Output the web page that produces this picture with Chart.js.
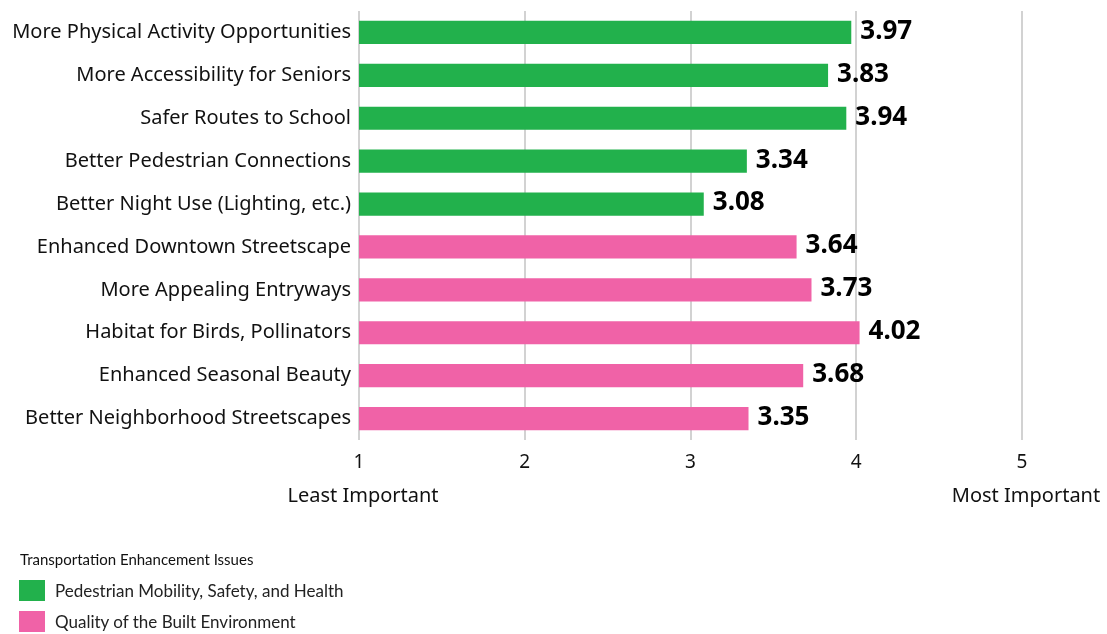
<!DOCTYPE html>
<html>
<head>
<meta charset="utf-8">
<script src="https://cdn.jsdelivr.net/npm/chart.js@4/dist/chart.umd.min.js"></script>
<style>
  html, body { margin: 0; padding: 0; background: #fff; }
  #wrap { position: relative; width: 1107px; height: 634px; overflow: hidden; }
  #legend { position: absolute; left: 20px; top: 548px; font-family: Lato, sans-serif; color: #111; }
  #legend .title { font-size: 15px; height: 22px; line-height: 22px; margin-bottom: 10px; }
  #legend .item { display: flex; align-items: center; height: 21px; margin-bottom: 10px; font-size: 17px; color: #222; }
  #legend .sw { width: 26px; height: 21px; margin-left: -1px; margin-right: 10px; }
</style>
</head>
<body>
<div id="wrap">
  <canvas id="c" width="1107" height="634"></canvas>
  <div id="legend"></div>
</div>
<script>
const categories = [
  "More Physical Activity Opportunities",
  "More Accessibility for Seniors",
  "Safer Routes to School",
  "Better Pedestrian Connections",
  "Better Night Use (Lighting, etc.)",
  "Enhanced Downtown Streetscape",
  "More Appealing Entryways",
  "Habitat for Birds, Pollinators",
  "Enhanced Seasonal Beauty",
  "Better Neighborhood Streetscapes"
];
const pedestrianValues = [3.97, 3.83, 3.94, 3.34, 3.08, null, null, null, null, null];
const builtEnvValues   = [null, null, null, null, null, 3.64, 3.73, 4.02, 3.68, 3.35];
const seriesNames = ["Pedestrian Mobility, Safety, and Health", "Quality of the Built Environment"];
const seriesColors = ["#22b14c", "#f062a7"];
const xTicks = [1, 2, 3, 4, 5];
const xEndCaptions = { 1: "Least Important", 5: "Most Important" };
const legendTitle = "Transportation Enhancement Issues";

const FONT = "'Noto Sans', sans-serif";

const valueLabels = {
  id: 'valueLabels',
  afterDatasetsDraw(chart) {
    const ctx = chart.ctx;
    ctx.save();
    ctx.font = "bold 26px " + FONT;
    ctx.fillStyle = "#000";
    ctx.textAlign = "left";
    ctx.textBaseline = "middle";
    chart.data.datasets.forEach((ds, di) => {
      const meta = chart.getDatasetMeta(di);
      meta.data.forEach((bar, i) => {
        const v = ds.data[i];
        if (v === null || v === undefined) return;
        ctx.fillText(v.toFixed(2), bar.x + 9, bar.y - 1);
      });
    });
    ctx.restore();
  }
};

const axisCaptions = {
  id: 'axisCaptions',
  afterDraw(chart) {
    const ctx = chart.ctx;
    const xs = chart.scales.x;
    ctx.save();
    ctx.font = "20px " + FONT;
    ctx.fillStyle = "#111";
    ctx.textAlign = "center";
    ctx.textBaseline = "middle";
    Object.keys(xEndCaptions).forEach(k => {
      const px = xs.getPixelForValue(Number(k));
      ctx.fillText(xEndCaptions[k], px + 4, 496);
    });
    ctx.restore();
  }
};

new Chart(document.getElementById('c'), {
  type: 'bar',
  data: {
    labels: categories,
    datasets: [
      { label: seriesNames[0], data: pedestrianValues, backgroundColor: seriesColors[0] },
      { label: seriesNames[1], data: builtEnvValues, backgroundColor: seriesColors[1] }
    ]
  },
  options: {
    indexAxis: 'y',
    responsive: false,
    animation: false,
    grouped: false,
    barPercentage: 0.54,
    categoryPercentage: 1.0,
    layout: { padding: { top: 11, right: 85, left: 0, bottom: 0 } },
    plugins: { legend: { display: false }, tooltip: { enabled: false } },
    scales: {
      x: {
        type: 'linear',
        min: 1, max: 5,
        afterBuildTicks(scale) { scale.ticks = xTicks.map(v => ({ value: v })); },
        afterFit(scale) { scale.height = 194; scale.paddingLeft = 0; scale.paddingRight = 0; },
        grid: { color: '#d2d2d2', lineWidth: 2, drawTicks: false },
        border: { display: false },
        ticks: { padding: 11, color: '#111', font: { family: FONT, size: 19 } }
      },
      y: {
        afterFit(scale) { scale.width = 359; scale.paddingTop = 0; scale.paddingBottom = 0; },
        grid: { display: false, drawTicks: false },
        border: { display: false },
        ticks: { padding: 8, color: '#111', font: { family: FONT, size: 20 } }
      }
    }
  },
  plugins: [valueLabels, axisCaptions]
});

// HTML legend built from the series
const lg = document.getElementById('legend');
const t = document.createElement('div'); t.className = 'title'; t.textContent = legendTitle; lg.appendChild(t);
seriesNames.forEach((n, i) => {
  const it = document.createElement('div'); it.className = 'item';
  const sw = document.createElement('div'); sw.className = 'sw'; sw.style.background = seriesColors[i];
  const tx = document.createElement('span'); tx.textContent = n;
  it.appendChild(sw); it.appendChild(tx); lg.appendChild(it);
});
</script>
</body>
</html>
